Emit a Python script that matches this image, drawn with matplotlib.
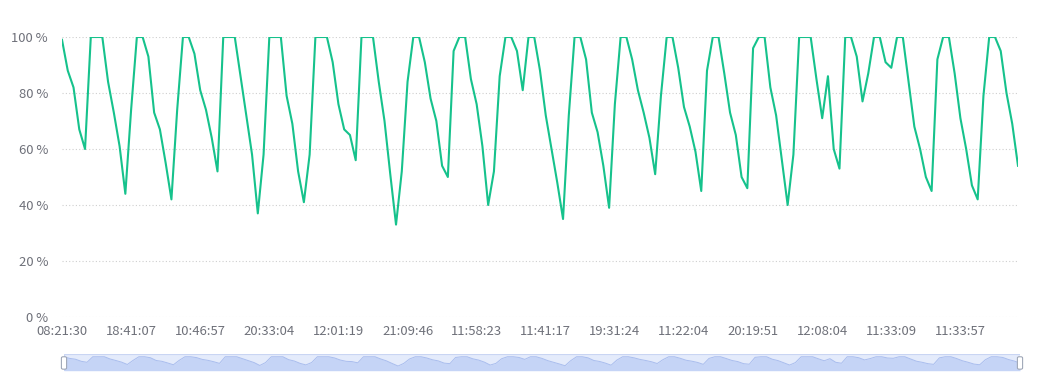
import matplotlib
matplotlib.use('Agg')
import matplotlib.pyplot as plt
from matplotlib.patches import Rectangle, FancyBboxPatch

plt.rcParams['font.family'] = ['Noto Sans CJK SC', 'DejaVu Sans']

values = [
    99, 88, 82, 67, 60, 100, 100, 100, 84, 73, 61, 44, 74, 100, 100, 93, 73, 67, 55, 42,
    74, 100, 100, 94, 81, 74, 64, 52, 100, 100, 100, 86, 72, 58, 37, 58, 100, 100, 100, 79,
    69, 52, 41, 58, 100, 100, 100, 91, 76, 67, 65, 56, 100, 100, 100, 84, 70, 51, 33, 52,
    84, 100, 100, 91, 78, 70, 54, 50, 95, 100, 100, 85, 76, 61, 40, 52, 86, 100, 100, 95,
    81, 100, 100, 88, 72, 60, 48, 35, 72, 100, 100, 92, 73, 66, 54, 39, 76, 100, 100, 92,
    81, 73, 64, 51, 79, 100, 100, 89, 75, 68, 59, 45, 88, 100, 100, 87, 73, 65, 50, 46,
    96, 100, 100, 82, 72, 56, 40, 58, 100, 100, 100, 85, 71, 86, 60, 53, 100, 100, 93, 77,
    87, 100, 100, 91, 89, 100, 100, 84, 68, 60, 50, 45, 92, 100, 100, 87, 71, 60, 47, 42,
    79, 100, 100, 95, 80, 69, 54,
]

tick_labels = ['08:21:30', '18:41:07', '10:46:57', '20:33:04', '12:01:19', '21:09:46',
               '11:58:23', '11:41:17', '19:31:24', '11:22:04', '20:19:51', '12:08:04',
               '11:33:09', '11:33:57']
label_step = 12

y_ticks = [0, 20, 40, 60, 80, 100]

line_color = '#16c28c'
text_color = '#6e7079'

W, H = 1050, 373
fig = plt.figure(figsize=(W / 100, H / 100), dpi=100)

ax = fig.add_axes([62 / W, (H - 317) / H, 956 / W, 280 / H])
x = list(range(len(values)))
ax.plot(x, values, color=line_color, linewidth=1.5, solid_joinstyle='round', zorder=3)

ax.set_xlim(0, len(values) - 1)
ax.set_ylim(0, 100)
ax.set_yticks(y_ticks)
ax.set_yticklabels([f'{v} %' for v in y_ticks])
ax.set_xticks([i * label_step for i in range(len(tick_labels))])
ax.set_xticklabels(tick_labels)
ax.tick_params(axis='both', length=0, colors=text_color, labelsize=9.4)
ax.tick_params(axis='y', pad=10)
ax.tick_params(axis='x', pad=6)
ax.grid(axis='y', color='#cfcfcf', linestyle=(0, (1, 2)), linewidth=0.8)
for s in ax.spines.values():
    s.set_visible(False)

# data zoom slider at the bottom
sl = fig.add_axes([64 / W, (H - 370.7) / H, 956 / W, 16.7 / H])
sl.set_xlim(0, len(values) - 1)
sl.set_ylim(-1, 120)
sl.add_patch(Rectangle((0, -1), len(values) - 1, 121, facecolor='#e4ebfb',
                       edgecolor='#c9d5f3', linewidth=0.8, zorder=0))
sl.fill_between(x, values, -1, color='#c5d4f6', linewidth=0, zorder=1)
sl.plot(x, values, color='#a9bdee', linewidth=0.7, zorder=2)
sl.set_xticks([])
sl.set_yticks([])
for s in sl.spines.values():
    s.set_visible(False)
for hx in (0, len(values) - 1):
    sl.add_patch(FancyBboxPatch((hx - 0.45, 10), 0.9, 90,
                                boxstyle='round,pad=0,rounding_size=0.3',
                                facecolor='white', edgecolor='#a0a8b8',
                                linewidth=0.8, zorder=4, clip_on=False,
                                mutation_aspect=30))

fig.savefig('out.png', dpi=100)
